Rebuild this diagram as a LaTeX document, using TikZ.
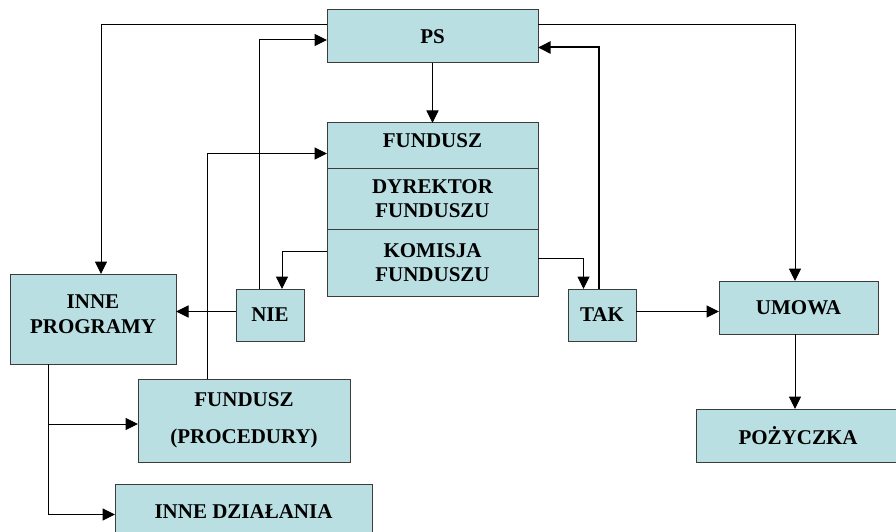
\documentclass[tikz,border=0pt]{standalone}
\usepackage{fontspec}
\setmainfont{Liberation Serif}
\usetikzlibrary{arrows.meta}

\definecolor{boxfill}{RGB}{185,223,227}
\definecolor{boxline}{RGB}{60,60,60}

\tikzset{
  box/.style={draw=boxline, line width=1pt, fill=boxfill, inner sep=0pt, outer sep=0pt,
    align=center, font=\bfseries\fontsize{21}{24.5}\selectfont},
  raised/.style={text depth=10pt},
  arr/.style={line width=1pt, -{Triangle[length=12.5pt,width=12pt]}},
}

\begin{document}
\begin{tikzpicture}[x=1pt, y=-1pt]
  \useasboundingbox (0,0) rectangle (896,532);

  % boxes
  \node[box, minimum width=211pt, minimum height=53pt] (ps) at (432.5,36.5) {PS};
  \node[box, raised, minimum width=211pt, minimum height=45pt] (fund) at (432.5,145.5) {FUNDUSZ};
  \node[box, minimum width=211pt, minimum height=61pt] (dyr) at (432.5,198.5) {DYREKTOR\\FUNDUSZU};
  \node[box, minimum width=211pt, minimum height=67pt] (kom) at (432.5,262.5) {KOMISJA\\FUNDUSZU};
  \node[box, raised, minimum width=166pt, minimum height=90pt] (inne) at (93,319) {INNE\\PROGRAMY};
  \node[box, minimum width=68pt, minimum height=52pt] (nie) at (270,315) {NIE};
  \node[box, minimum width=68pt, minimum height=52pt] (tak) at (602,315) {TAK};
  \node[box, minimum width=159pt, minimum height=53pt] (umowa) at (798.5,307.5) {UMOWA};
  \node[box, minimum width=204pt, minimum height=53pt] (pozy) at (798,435.5) {POŻYCZKA};
  \node[box, minimum width=212pt, minimum height=83pt] (proc) at (244,420.5) {FUNDUSZ\\[13pt](PROCEDURY)};
  \node[box, minimum width=257pt, minimum height=55pt] (dzial) at (243.5,511.5) {INNE DZIAŁANIA};

  % bend points of the connectors
  \coordinate (b1) at (101,25);
  \coordinate (b2) at (259.5,40);
  \coordinate (b3) at (207,153.5);
  \coordinate (b5) at (282,251.5);
  \coordinate (b6) at (583.5,258.5);
  \coordinate (b7) at (599,47.5);
  \coordinate (b8) at (795,25);
  \coordinate (row) at (0,311.5);
  \coordinate (b12) at (48,514.5);
  \coordinate (b13) at (48,424);

  % connectors
  \draw[arr] (ps.west |- b1) -- (b1) -- (inne.north -| b1);
  \draw[arr] (nie.north -| b2) -- (b2) -- (ps.west |- b2);
  \draw[arr] (proc.north -| b3) -- (b3) -- (fund.west |- b3);
  \draw[arr] (ps.south) -- (fund.north);
  \draw[arr] (kom.west |- b5) -- (b5) -- (nie.north -| b5);
  \draw[arr] (kom.east |- b6) -- (b6) -- (tak.north -| b6);
  \draw[arr, line width=2pt] (tak.north -| b7) -- (b7) -- (ps.east |- b7);
  \draw[arr] (ps.east |- b8) -- (b8) -- (umowa.north -| b8);
  \draw[arr] (nie.west |- row) -- (inne.east |- row);
  \draw[arr] (tak.east |- row) -- (umowa.west |- row);
  \draw[arr] (umowa.south -| b8) -- (pozy.north -| b8);
  \draw[arr] (inne.south -| b12) -- (b12) -- (dzial.west |- b12);
  \draw[arr] (b13) -- (proc.west |- b13);
\end{tikzpicture}
\end{document}
